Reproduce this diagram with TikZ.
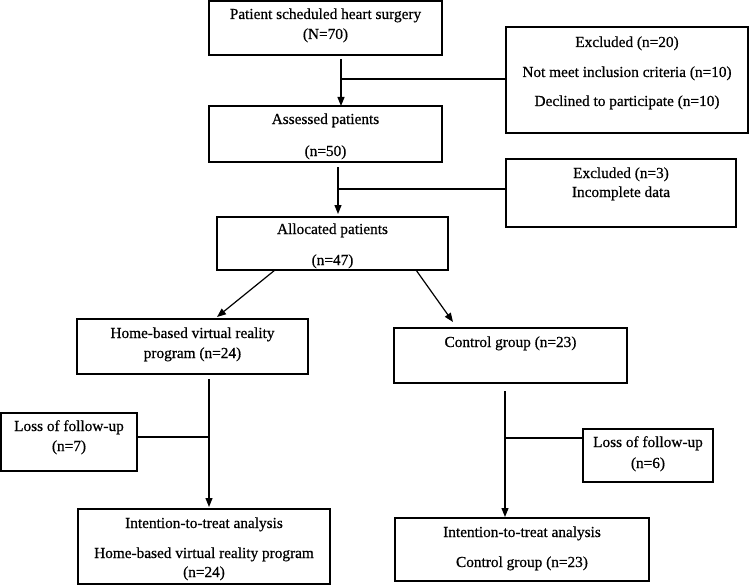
\documentclass[tikz,border=0pt]{standalone}
\usepackage{fontspec}
\setmainfont[FakeBold=0.6]{Liberation Serif}
\usetikzlibrary{arrows.meta,calc}
\begin{document}
\begin{tikzpicture}[x=1pt,y=-1pt,
  box/.style={draw, line width=1.3pt, inner sep=0pt, outer sep=0pt, align=center,
    font=\fontsize{15.3}{18}\selectfont},
  ln/.style={line width=1.2pt},
  arr/.style={line width=1.2pt, -{Triangle[length=9pt,width=7pt]}}]
\useasboundingbox (0,0) rectangle (750,586);

\node[box, minimum width=233pt, minimum height=54pt, text height=37pt, text depth=15pt] (p1) at (325.5,28)
  {Patient scheduled heart surgery\\[2pt](N=70)};
\node[box, minimum width=233pt, minimum height=56pt, text height=49pt, text depth=5pt] (assess) at (325.5,134)
  {Assessed patients\\[14pt](n=50)};
\node[box, minimum width=242pt, minimum height=106pt, text height=78pt, text depth=26pt] (excl1) at (627,80)
  {Excluded (n=20)\\[12pt]Not meet inclusion criteria (n=10)\\[11pt]Declined to participate (n=10)};
\node[box, minimum width=230pt, minimum height=68pt, text height=37pt, text depth=29pt] (excl2) at (621,193)
  {Excluded (n=3)\\[1pt]Incomplete data};
\node[box, minimum width=231pt, minimum height=53pt, text height=47pt, text depth=4pt] (alloc) at (332.5,243.5)
  {Allocated patients\\[13pt](n=47)};
\node[box, minimum width=231pt, minimum height=55pt, text height=38pt, text depth=15pt] (home) at (192.5,346.5)
  {Home-based virtual reality\\[2pt]program (n=24)};
\node[box, minimum width=233pt, minimum height=55pt, text height=18pt, text depth=35pt] (ctrl) at (510.5,355.5)
  {Control group (n=23)};
\node[box, minimum width=136pt, minimum height=58pt, text height=37pt, text depth=19pt] (lossL) at (69,442)
  {Loss of follow-up\\[2pt](n=7)};
\node[box, minimum width=130pt, minimum height=53pt, text height=38pt, text depth=13pt] (lossR) at (648,455.5)
  {Loss of follow-up\\[3pt](n=6)};
\node[box, minimum width=252pt, minimum height=75pt, text height=67pt, text depth=6pt] (itL) at (204,546.5)
  {Intention-to-treat analysis\\[12pt]Home-based virtual reality program\\[1pt](n=24)};
\node[box, minimum width=254pt, minimum height=63pt, text height=48pt, text depth=13pt] (itR) at (522,549.5)
  {Intention-to-treat analysis\\[12pt]Control group (n=23)};

\coordinate (s1) at (341,59);
\coordinate (j1) at (341,79);
\coordinate (s2) at (338,167);
\coordinate (j2) at (338,189);
\coordinate (s3) at (209,379);
\coordinate (j3) at (209,437);
\coordinate (s4) at (505,391);
\coordinate (j4) at (505,438);

\draw[arr] (s1) -- (s1 |- assess.north);
\draw[ln] (j1) -- (j1 -| excl1.west);
\draw[arr, shorten >=3pt] (s2) -- (s2 |- alloc.north);
\draw[ln] (j2) -- (j2 -| excl2.west);
\draw[arr] ([xshift=58pt]alloc.south west) -- ([xshift=140pt,yshift=2pt]home.north west);
\draw[arr] ([xshift=199pt]alloc.south west) -- ([xshift=59pt,yshift=6pt]ctrl.north west);
\draw[arr, shorten >=2pt] (s3) -- (s3 |- itL.north);
\draw[ln] (j3) -- (j3 -| lossL.east);
\draw[arr, shorten >=1pt] (s4) -- (s4 |- itR.north);
\draw[ln] (j4) -- (j4 -| lossR.west);
\end{tikzpicture}
\end{document}
